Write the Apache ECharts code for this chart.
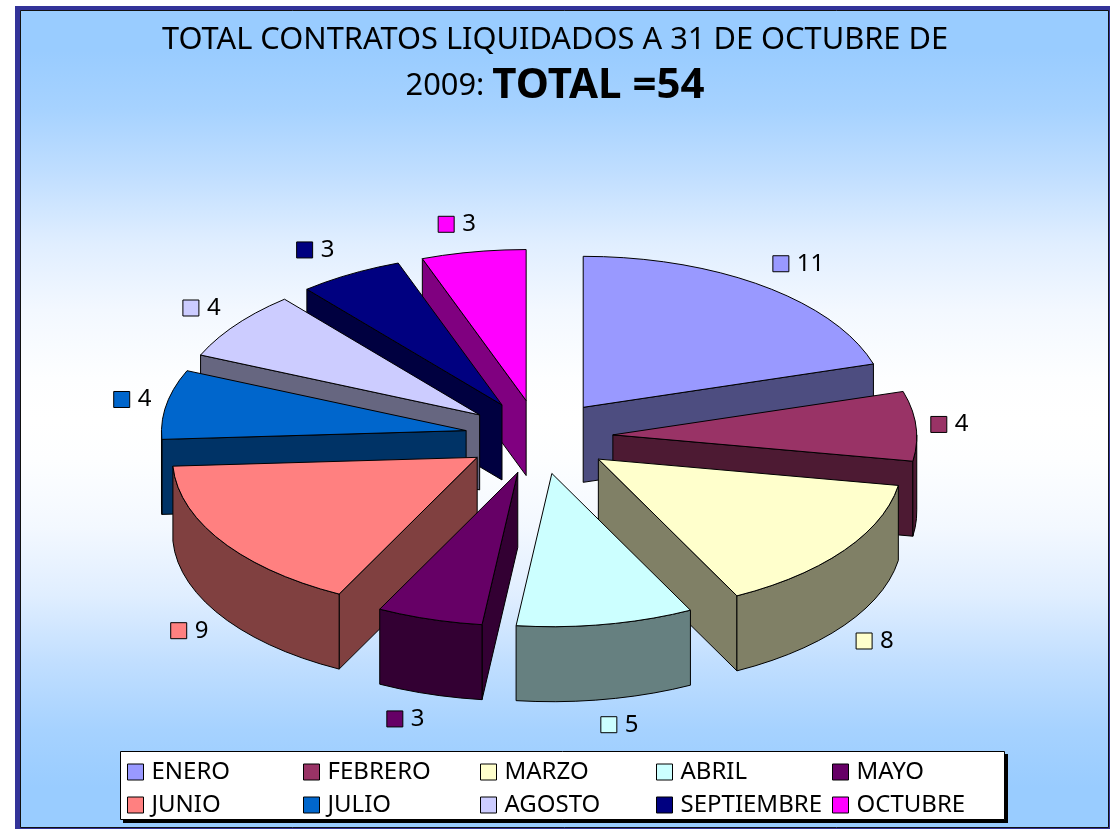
<!DOCTYPE html>
<html>
<head>
<meta charset="utf-8">
<title>Contratos liquidados</title>
<style>
html, body { margin: 0; padding: 0; background: #fff; }
#main { width: 1111px; height: 830px; }
</style>
<script src="https://cdn.jsdelivr.net/npm/echarts@6/dist/echarts.min.js"></script>
</head>
<body>
<div id="main"></div>
<script>
var months = ['ENERO', 'FEBRERO', 'MARZO', 'ABRIL', 'MAYO', 'JUNIO', 'JULIO', 'AGOSTO', 'SEPTIEMBRE', 'OCTUBRE'];
var contracts = [11, 4, 8, 5, 3, 9, 4, 4, 3, 3];
var topColors = ['#9999FF', '#993366', '#FFFFCC', '#CCFFFF', '#660066', '#FF8080', '#0066CC', '#CCCCFF', '#000080', '#FF00FF'];
var wallColors = ['#4D4D80', '#4D1A33', '#808066', '#668080', '#330033', '#804040', '#003366', '#666680', '#000040', '#800080'];
var legendColumns = [['ENERO', 'JUNIO'], ['FEBRERO', 'JULIO'], ['MARZO', 'AGOSTO'], ['ABRIL', 'SEPTIEMBRE'], ['MAYO', 'OCTUBRE']];
var legendLefts = [127, 303, 480, 656, 832];

var FONT = '"Noto Sans", sans-serif';
var cx = 539, cy = 437, rx = 302, ry = 151, depth = 75, explode = 74;

var total = contracts.reduce(function(a, b){ return a + b; }, 0);
var RAD = Math.PI / 180;

// angulos acumulados, desde las 12 y en sentido horario
var startAngles = [], acc = 0;
contracts.forEach(function(v){
  startAngles.push(acc);
  acc += v / total * 360;
});

function onEllipse(ox, oy, a, sx, sy){
  return [ox + sx * Math.sin(a * RAD), oy - sy * Math.cos(a * RAD)];
}

// borde de la tarta: la perspectiva agranda un poco lo que queda abajo
function onRim(ox, oy, a){
  var s = Math.sin(a * RAD), low = (1 - Math.cos(a * RAD)) / 2;
  var fx = s < 0 ? 1.005 + 0.015 * low * low : 1 + 0.025 * low * low;
  var fy = 1 + 0.015 * low * low;
  return onEllipse(ox, oy, a, rx * fx, ry * fy);
}

function arcPoints(ox, oy, a0, a1){
  var pts = [], n = Math.max(2, Math.ceil((a1 - a0) / 4));
  for(var i = 0; i <= n; i++){
    pts.push(onRim(ox, oy, a0 + (a1 - a0) * i / n));
  }
  return pts;
}

function poly(points, fill){
  return {
    type: 'polygon',
    shape: { points: points },
    style: { fill: fill, stroke: '#000', lineWidth: 1 }
  };
}

function face(ax, ay, a, fill){
  var p = onRim(ax, ay, a);
  return poly([[ax, ay], p, [p[0], p[1] + depth], [ax, ay + depth]], fill);
}

function renderSlice(idx){
  return function(params, api){
    var value = api.value(0);
    var a0 = startAngles[idx], sweep = value / total * 360, a1 = a0 + sweep, mid = a0 + sweep / 2;
    var apex = onEllipse(cx, cy, mid, explode, explode / 2);
    var ax = apex[0], ay = apex[1];
    var children = [];

    // caras de corte que miran al espectador
    if(Math.sin(a0 * RAD) < 0) children.push(face(ax, ay, a0, wallColors[idx]));
    if(Math.sin(a1 * RAD) > 0) children.push(face(ax, ay, a1, wallColors[idx]));

    // pared exterior, solo la mitad de abajo
    var w0 = Math.max(a0, 90), w1 = Math.min(a1, 270);
    if(w1 > w0){
      var upper = arcPoints(ax, ay, w0, w1);
      var lower = upper.map(function(p){ return [p[0], p[1] + depth]; }).reverse();
      children.push(poly(upper.concat(lower), wallColors[idx]));
    }

    // cara de arriba
    children.push(poly([[ax, ay]].concat(arcPoints(ax, ay, a0, a1)), topColors[idx]));

    // etiqueta con su clave
    var c = Math.cos(mid * RAD);
    var labelRx = 412 + 60 * c * c * c * c;
    var lx = cx + labelRx * Math.sin(mid * RAD);
    var ly = cy - 216 * c + (c < 0 ? depth : 0);
    var textW = String(value).length * 15;
    var keyX = lx - (16 + 8 + textW) / 2;
    children.push({
      type: 'rect',
      shape: { x: keyX, y: ly - 8, width: 16, height: 16 },
      style: { fill: topColors[idx], stroke: '#000', lineWidth: 1 }
    });
    children.push({
      type: 'text',
      style: {
        text: String(value), x: keyX + 24, y: ly, fill: '#000',
        font: '24px ' + FONT, textAlign: 'left', textVerticalAlign: 'middle'
      }
    });
    return { type: 'group', children: children };
  };
}

var series = months.map(function(name, i){
  var mid = startAngles[i] + contracts[i] / total * 180;
  return {
    type: 'custom',
    name: name,
    coordinateSystem: 'none',
    // lo mas cerca de las 12 se pinta primero
    z: 2 + Math.min(mid, 360 - mid) / 10,
    silent: true,
    animation: false,
    itemStyle: { color: topColors[i] },
    renderItem: renderSlice(i),
    data: [[contracts[i]]]
  };
});

var legends = legendColumns.map(function(col, i){
  return {
    orient: 'vertical',
    left: legendLefts[i],
    top: 759,
    padding: 0,
    itemWidth: 16,
    itemHeight: 16,
    itemGap: 7,
    icon: 'rect',
    selectedMode: false,
    z: 20,
    itemStyle: { borderColor: '#000', borderWidth: 1 },
    textStyle: { color: '#000', fontFamily: FONT, fontSize: 24, lineHeight: 26, padding: [0, 0, 0, 3] },
    data: col
  };
});

var chart = echarts.init(document.getElementById('main'));
chart.setOption({
  animation: false,
  backgroundColor: '#fff',
  title: {
    left: 550,
    top: 12,
    textAlign: 'center',
    z: 20,
    text: '{a|TOTAL CONTRATOS LIQUIDADOS A 31 DE OCTUBRE DE}\n{a|2009: }{b|TOTAL =54}',
    textStyle: {
      fontWeight: 'normal',
      rich: {
        a: { fontFamily: FONT, fontWeight: 'normal', fontSize: 30.8, lineHeight: 46, color: '#000' },
        b: { fontFamily: FONT, fontWeight: 'bold', fontSize: 42, lineHeight: 46, color: '#000' }
      }
    }
  },
  legend: legends,
  graphic: [
    { type: 'rect', z: 0, shape: { x: 15, y: 6, width: 1095, height: 823 }, style: { fill: '#333399' } },
    {
      type: 'rect', z: 0,
      shape: { x: 20.5, y: 10.5, width: 1088, height: 817 },
      style: {
        stroke: '#111', lineWidth: 1,
        fill: new echarts.graphic.LinearGradient(0, 0, 0, 1, [
          { offset: 0, color: '#99CCFF' },
          { offset: 0.05, color: '#99CCFF' },
          { offset: 0.12, color: '#A6D2FF' },
          { offset: 0.2, color: '#C0DEFF' },
          { offset: 0.285, color: '#E0EEFF' },
          { offset: 0.367, color: '#F3F8FF' },
          { offset: 0.45, color: '#FDFEFF' },
          { offset: 0.5, color: '#FFFFFF' },
          { offset: 0.55, color: '#FDFEFF' },
          { offset: 0.633, color: '#F3F8FF' },
          { offset: 0.715, color: '#E0EEFF' },
          { offset: 0.8, color: '#C0DEFF' },
          { offset: 0.88, color: '#A6D2FF' },
          { offset: 0.95, color: '#99CCFF' },
          { offset: 1, color: '#99CCFF' }
        ])
      }
    },
    { type: 'rect', z: 1, shape: { x: 123, y: 754, width: 885, height: 69 }, style: { fill: '#000' } },
    { type: 'rect', z: 1, shape: { x: 120.5, y: 751.5, width: 884, height: 68 }, style: { fill: '#fff', stroke: '#000', lineWidth: 1 } }
  ],
  series: series
});
window.onresize = chart.resize;
</script>
</body>
</html>
